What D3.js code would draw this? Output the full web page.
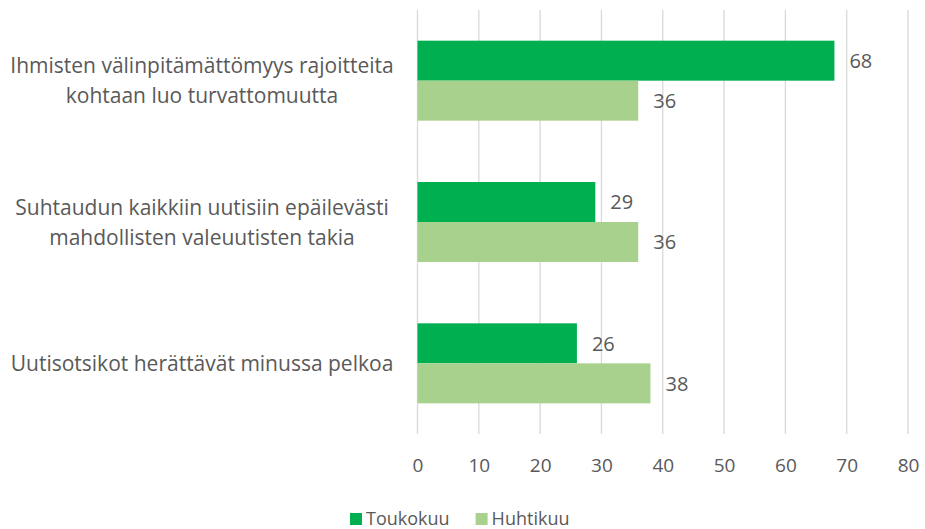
<!DOCTYPE html>
<html>
<head>
<meta charset="utf-8">
<script src="https://cdn.jsdelivr.net/npm/d3@7"></script>
<style>
  body { margin: 0; background: #fff; }
  svg text { font-family: "Open Sans", sans-serif; fill: #595959; }
</style>
</head>
<body>
<div id="chart"></div>
<script>
// categories (line breaks as in the original)
const categories = [
    "Ihmisten välinpitämättömyys rajoitteita\nkohtaan luo turvattomuutta",
    "Suhtaudun kaikkiin uutisiin epäilevästi\nmahdollisten valeuutisten takia",
    "Uutisotsikot herättävät minussa pelkoa"
];
const seriesNames = ["Toukokuu", "Huhtikuu"];
const toukokuu = [68, 29, 26];
const huhtikuu = [36, 36, 38];
const xTicks = [0, 10, 20, 30, 40, 50, 60, 70, 80];

const colors = {Toukokuu: "#00B050", Huhtikuu: "#A9D18E"};

const width = 925, height = 529;
const margin = {top: 10, left: 417.5, right: 17, bottom: 95};

const data = categories.map((c, i) => ({k: c, Toukokuu: toukokuu[i], Huhtikuu: huhtikuu[i]}));

const svg = d3.select("#chart").append("svg")
    .attr("width", width)
    .attr("height", height);

const x = d3.scaleLinear()
    .domain([0, 80])
    .range([margin.left, width - margin.right]);

const y = d3.scaleBand()
    .domain(categories)
    .range([margin.top, height - margin.bottom])
    .paddingInner(0.434)
    .paddingOuter(0.217);

const ySub = d3.scaleBand()
    .domain(seriesNames)
    .range([0, y.bandwidth()]);

// gridlines
svg.append("g")
    .selectAll("line")
    .data(xTicks)
    .join("line")
    .attr("x1", d => x(d)).attr("x2", d => x(d))
    .attr("y1", margin.top).attr("y2", height - margin.bottom)
    .attr("stroke", "#D9D9D9")
    .attr("stroke-width", 1.3);

// x axis labels
const xAxis = svg.append("g")
    .attr("transform", `translate(0,${height - margin.bottom})`)
    .call(d3.axisBottom(x).tickValues(xTicks).tickSize(0).tickPadding(25));
xAxis.select(".domain").remove();
xAxis.selectAll("text")
    .style("font-size", "19px")
    .style("font-family", "'Open Sans', sans-serif")
    .attr("fill", "#595959");

// bars
const groups = svg.append("g")
    .selectAll("g")
    .data(data)
    .join("g")
    .attr("transform", d => `translate(0,${y(d.k)})`);

groups.selectAll("rect")
    .data(d => seriesNames.map(s => ({s, v: d[s]})))
    .join("rect")
    .attr("x", x(0))
    .attr("y", d => ySub(d.s))
    .attr("width", d => x(d.v) - x(0))
    .attr("height", ySub.bandwidth())
    .attr("fill", d => colors[d.s]);

// value labels
groups.selectAll("text.val")
    .data(d => seriesNames.map(s => ({s, v: d[s]})))
    .join("text")
    .classed("val", true)
    .attr("x", d => x(d.v) + 15)
    .attr("y", d => ySub(d.s) + ySub.bandwidth() / 2)
    .attr("dy", "0.36em")
    .style("font-size", "20px")
    .text(d => d.v);

// category labels
const labelX = 202;
svg.append("g")
    .selectAll("text")
    .data(categories)
    .join("text")
    .attr("text-anchor", "middle")
    .style("font-size", "21px")
    .each(function(d) {
        const lines = d.split("\n");
        const lh = 30;
        const cy = y(d) + y.bandwidth() / 2;
        const t = d3.select(this);
        lines.forEach((l, i) => {
            t.append("tspan")
                .attr("x", labelX)
                .attr("y", cy + (i - (lines.length - 1) / 2) * lh)
                .attr("dy", "0.36em")
                .text(l);
        });
    });

// legend
const legend = svg.append("g").attr("transform", "translate(350,519)");
let lx = 0;
seriesNames.forEach(s => {
    const item = legend.append("g").attr("transform", `translate(${lx},0)`);
    item.append("rect")
        .attr("x", 0).attr("y", -6)
        .attr("width", 12).attr("height", 12)
        .attr("fill", colors[s]);
    const t = item.append("text")
        .attr("x", 16)
        .attr("dy", "0.36em")
        .style("font-size", "18px")
        .text(s);
    lx += 16 + t.node().getComputedTextLength() + 26;
});
</script>
</body>
</html>
